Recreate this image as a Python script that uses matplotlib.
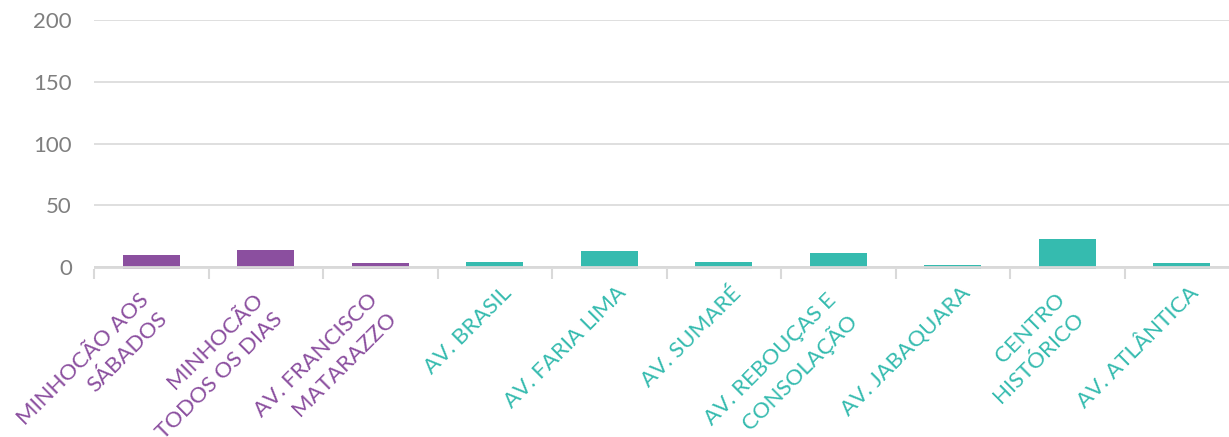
import matplotlib.pyplot as plt
import numpy as np

# categories and counts
categories = ["MINHOCÃO AOS\nSÁBADOS", "MINHOCÃO\nTODOS OS DIAS", "AV. FRANCISCO\nMATARAZZO",
              "AV. BRASIL", "AV. FARIA LIMA", "AV. SUMARÉ", "AV. REBOUÇAS E\nCONSOLAÇÃO",
              "AV. JABAQUARA", "CENTRO\nHISTÓRICO", "AV. ATLÂNTICA"]
values = [10, 14, 3, 4, 13, 4, 11, 2, 23, 3]
groups = ["p", "p", "p", "t", "t", "t", "t", "t", "t", "t"]

purple = "#8B4F9F"
teal = "#35BBAF"
colors = {"p": purple, "t": teal}

plt.rcParams['font.family'] = ['Lato', 'DejaVu Sans']

fig = plt.figure(figsize=(12.29, 4.37), dpi=100)
# plot area runs a little past the right edge, like the original
ax = fig.add_axes([0.0765, 0.3844, 0.9317, 0.5698])

x = np.arange(len(categories))
ymin = -1.6
ax.bar(x, np.array(values) - ymin, bottom=ymin, width=0.5,
       color=[colors[g] for g in groups], zorder=2)
ax.axhline(0, color="#d9d9d9", lw=2, zorder=3)

ax.set_xlim(-0.5, len(categories) - 0.5)
ax.set_ylim(ymin, 200)
ax.set_yticks([0, 50, 100, 150, 200])
ax.yaxis.grid(True, color="#d9d9d9", lw=1.2, zorder=0)
ax.tick_params(axis="y", length=0, labelsize=16, labelcolor="#7f7f7f", pad=16)

# tick marks at category boundaries, labels drawn as rotated text
ax.set_xticks([])
ax.set_xticks(np.arange(len(categories) + 1) - 0.5, minor=True)
ax.tick_params(axis="x", which="minor", length=7, width=1.5, color="#d9d9d9")

for i, (lab, g) in enumerate(zip(categories, groups)):
    two = "\n" in lab
    off = (-9, -15) if two else (5, -10)
    ax.annotate(lab, xy=(i, 0), xycoords=("data", "axes fraction"),
                xytext=off, textcoords="offset points",
                rotation=45, ha="right", va="top", rotation_mode="anchor",
                fontsize=16, linespacing=1.4, multialignment="right",
                color=colors[g], annotation_clip=False)

for s in ax.spines.values():
    s.set_visible(False)

fig.savefig("out.png", dpi=100)
